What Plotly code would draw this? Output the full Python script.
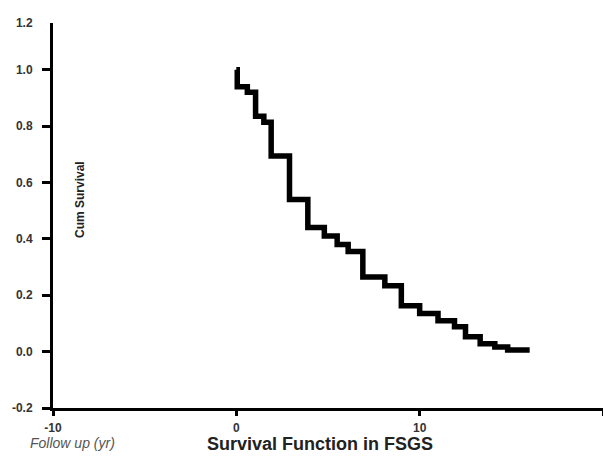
import plotly.graph_objects as go

# Kaplan-Meier style step data (time in years, cumulative survival)
follow_up_yr = [0.0, 0.05, 0.6, 1.05, 1.5, 1.9, 2.9, 3.9, 4.8, 5.5, 6.1, 6.9, 8.1, 9.0, 10.0, 11.0, 11.9, 12.5, 13.3, 14.1, 14.8, 16.0]
cum_survival = [1.0, 0.94, 0.92, 0.835, 0.814, 0.694, 0.54, 0.44, 0.41, 0.38, 0.355, 0.265, 0.234, 0.163, 0.135, 0.11, 0.088, 0.053, 0.028, 0.016, 0.006, 0.006]

x_tick_vals = [-10, 0, 10, 20]
x_tick_text = ["-10", "0", "10", "20"]
y_tick_vals = [-0.2, 0.0, 0.2, 0.4, 0.6, 0.8, 1.0]
y_tick_text = ["-0.2", "0.0", "0.2", "0.4", "0.6", "0.8", "1.0"]
y_top_val = 1.166
y_top_text = "1.2"

tick_font = dict(family="Arial, Liberation Sans, sans-serif", size=12, color="#333333", weight=700)

W, H = 603, 459
l, r, t, b = 53, 0, 23, 51

fig = go.Figure()
fig.add_trace(go.Scatter(
    x=follow_up_yr, y=cum_survival, mode="lines",
    line=dict(shape="hv", color="black", width=5.5),
    showlegend=False, hoverinfo="skip",
))

fig.update_layout(
    width=W, height=H,
    margin=dict(l=l, r=r, t=t, b=b),
    paper_bgcolor="white", plot_bgcolor="white",
    xaxis=dict(
        range=[-10, 20], tickvals=x_tick_vals, ticktext=x_tick_text,
        showgrid=False, zeroline=False, showline=True, linecolor="black", linewidth=3,
        ticks="outside", ticklen=7, tickwidth=1, tickcolor="rgba(0,0,0,0)",
        tickfont=tick_font,
        minor=dict(tickvals=x_tick_vals, ticks="outside", ticklen=5, tickwidth=3,
                   tickcolor="black", showgrid=False),
    ),
    yaxis=dict(
        range=[-0.2, y_top_val],
        tickvals=y_tick_vals + [y_top_val], ticktext=y_tick_text + [y_top_text],
        showgrid=False, zeroline=False, showline=True, linecolor="black", linewidth=3,
        ticks="outside", ticklen=15, tickwidth=1, tickcolor="rgba(0,0,0,0)",
        tickfont=tick_font,
        minor=dict(tickvals=y_tick_vals, ticks="outside", ticklen=8, tickwidth=3,
                   tickcolor="black", showgrid=False),
    ),
)

pw, ph = W - l - r, H - t - b
def px_to_paper(px, py):
    return (px - l) / pw, (H - b - py) / ph

ax, ay = px_to_paper(80, 200)
fx, fy = px_to_paper(72, 443)
sx, sy = px_to_paper(320, 444)
fig.update_layout(annotations=[
    dict(text="<b>Cum Survival</b>", x=ax, y=ay, xref="paper", yref="paper",
         xanchor="center", yanchor="middle", showarrow=False, textangle=-90,
         font=dict(family="Arial, Liberation Sans, sans-serif", size=12, color="#222222")),
    dict(text="<i>Follow up (yr)</i>", x=fx, y=fy, xref="paper", yref="paper",
         xanchor="center", yanchor="middle", showarrow=False,
         font=dict(family="Arial, Liberation Sans, sans-serif", size=14, color="#555555")),
    dict(text="<b>Survival Function in FSGS</b>", x=sx, y=sy, xref="paper", yref="paper",
         xanchor="center", yanchor="middle", showarrow=False,
         font=dict(family="Arial, Liberation Sans, sans-serif", size=18, color="#222222")),
])

fig.write_html("out.html")
